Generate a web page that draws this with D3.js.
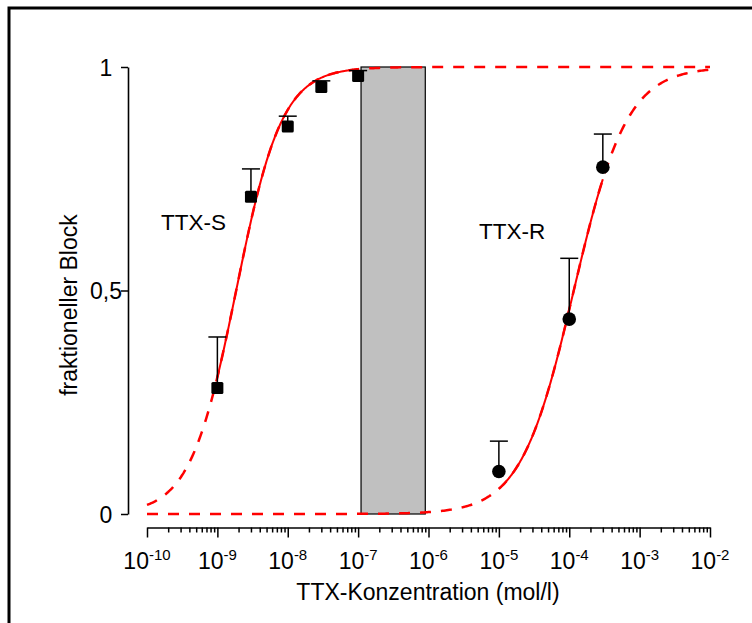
<!DOCTYPE html>
<html>
<head>
<meta charset="utf-8">
<script src="https://cdn.jsdelivr.net/npm/d3@7"></script>
<style>
  body { margin: 0; background: #fff; }
  svg text { font-family: "Liberation Sans", Arial, sans-serif; fill: #000; }
</style>
</head>
<body>
<div id="chart"></div>
<script>
// TTX-S (squares) and TTX-R (circles): mean block and upper error bar
const sConc = [1e-9, 3e-9, 1e-8, 3e-8, 1e-7];
const sBlock = [0.282, 0.710, 0.867, 0.955, 0.980];
const sErrTop = [0.396, 0.772, 0.890, 0.969, 0.992];

const rConc = [1e-5, 1e-4, 3e-4];
const rBlock = [0.095, 0.436, 0.776];
const rErrTop = [0.163, 0.572, 0.850];

// Hill fits: [TTX-S, TTX-R]
const fitIC50 = [1.85e-9, 1.16e-4];
const fitHill = [1.33, 1.15];
const fitSolidRange = [[1e-9, 1e-7], [1e-5, 3e-4]];

// shaded concentration range
const bandRange = [1.1e-7, 9e-7];

const decades = [-10, -9, -8, -7, -6, -5, -4, -3, -2];
const yTicks = [0, 0.5, 1];

const width = 752, height = 623;

const svg = d3.select("#chart")
    .append("svg")
    .attr("width", width)
    .attr("height", height);

// outer frame
svg.append("rect")
    .attr("x", 9)
    .attr("y", 8)
    .attr("width", 800)
    .attr("height", 700)
    .attr("fill", "none")
    .attr("stroke", "#000")
    .attr("stroke-width", 3);

const x = d3.scaleLog()
    .domain([1e-10, 1e-2])
    .range([147, 710]);

const y = d3.scaleLinear()
    .domain([0, 1])
    .range([514, 67]);

// grey band
svg.append("rect")
    .attr("x", x(bandRange[0]))
    .attr("y", y(1))
    .attr("width", x(bandRange[1]) - x(bandRange[0]))
    .attr("height", y(0) - y(1))
    .attr("fill", "#c0c0c0")
    .attr("stroke", "#000")
    .attr("stroke-width", 1.2);

// x axis
const allTicks = [];
decades.forEach((e, i) => {
    allTicks.push(Math.pow(10, e));
    if (i < decades.length - 1) {
        for (let m = 2; m <= 9; m++) allTicks.push(m * Math.pow(10, e));
    }
});

const xAxis = svg.append("g")
    .attr("transform", "translate(0,527.5)")
    .call(d3.axisBottom(x).tickValues(allTicks).tickFormat("").tickSizeOuter(0));

xAxis.select(".domain").attr("stroke-width", 1.6);
xAxis.selectAll(".tick line")
    .attr("stroke-width", 1.5)
    .attr("y2", d => Math.abs(Math.log10(d) - Math.round(Math.log10(d))) < 1e-6 ? 10 : 5);

decades.forEach(e => {
    const t = svg.append("text")
        .attr("x", x(Math.pow(10, e)))
        .attr("y", 569)
        .attr("text-anchor", "middle")
        .style("font-size", "23px");
    t.append("tspan").text("10");
    t.append("tspan")
        .attr("dy", -9)
        .style("font-size", "15px")
        .text(e);
});

// y axis
const yAxis = svg.append("g")
    .attr("transform", "translate(128,0)")
    .call(d3.axisLeft(y).tickValues(yTicks).tickSize(7).tickSizeOuter(0)
        .tickFormat(d => d === 0.5 ? "0,5" : d));

yAxis.select(".domain").attr("stroke-width", 1.6);
yAxis.selectAll(".tick line").attr("stroke-width", 1.5);
yAxis.selectAll(".tick text")
    .attr("x", -22)
    .attr("dy", "0.36em")
    .attr("text-anchor", "middle")
    .style("font-size", "23px")
    .style("font-family", "'Liberation Sans', Arial, sans-serif");

// axis titles
svg.append("text")
    .attr("x", 428)
    .attr("y", 600)
    .attr("text-anchor", "middle")
    .style("font-size", "23px")
    .text("TTX-Konzentration (mol/l)");

svg.append("text")
    .attr("transform", "translate(77,305) rotate(-90)")
    .attr("text-anchor", "middle")
    .style("font-size", "23px")
    .text("fraktioneller Block");

// fitted curves
const hill = (c, i) => 1 / (1 + Math.pow(fitIC50[i] / c, fitHill[i]));
const line = d3.line()
    .x(d => x(d[0]))
    .y(d => y(d[1]));

[0, 1].forEach(i => {
    const full = d3.range(0, 401).map(k => Math.pow(10, -10 + k * 8 / 400));
    svg.append("path")
        .datum(full.map(c => [c, hill(c, i)]))
        .attr("d", line)
        .attr("fill", "none")
        .attr("stroke", "#ff0000")
        .attr("stroke-width", 2.5)
        .attr("stroke-dasharray", "11,10");

    const lo = Math.log10(fitSolidRange[i][0]), hi = Math.log10(fitSolidRange[i][1]);
    const part = d3.range(0, 201).map(k => Math.pow(10, lo + k * (hi - lo) / 200));
    svg.append("path")
        .datum(part.map(c => [c, hill(c, i)]))
        .attr("d", line)
        .attr("fill", "none")
        .attr("stroke", "#ff0000")
        .attr("stroke-width", 2);
});

// error bars (upper only)
const drawErr = (conc, val, top) => {
    conc.forEach((c, i) => {
        svg.append("line")
            .attr("x1", x(c)).attr("x2", x(c))
            .attr("y1", y(val[i])).attr("y2", y(top[i]))
            .attr("stroke", "#000").attr("stroke-width", 1.5);
        svg.append("line")
            .attr("x1", x(c) - 9).attr("x2", x(c) + 9)
            .attr("y1", y(top[i])).attr("y2", y(top[i]))
            .attr("stroke", "#000").attr("stroke-width", 1.5);
    });
};
drawErr(sConc, sBlock, sErrTop);
drawErr(rConc, rBlock, rErrTop);

svg.selectAll(".sq")
    .data(sConc)
    .enter()
    .append("rect")
    .attr("class", "sq")
    .attr("x", d => x(d) - 6)
    .attr("y", (d, i) => y(sBlock[i]) - 6)
    .attr("width", 12)
    .attr("height", 12)
    .attr("rx", 1.5)
    .attr("fill", "#000");

svg.selectAll(".dot")
    .data(rConc)
    .enter()
    .append("circle")
    .attr("class", "dot")
    .attr("cx", d => x(d))
    .attr("cy", (d, i) => y(rBlock[i]))
    .attr("r", 6.8)
    .attr("fill", "#000");

// series labels
svg.append("text")
    .attr("x", 161)
    .attr("y", 229.5)
    .style("font-size", "22.5px")
    .text("TTX-S");

svg.append("text")
    .attr("x", 479)
    .attr("y", 238.5)
    .style("font-size", "22.5px")
    .text("TTX-R");
</script>
</body>
</html>
